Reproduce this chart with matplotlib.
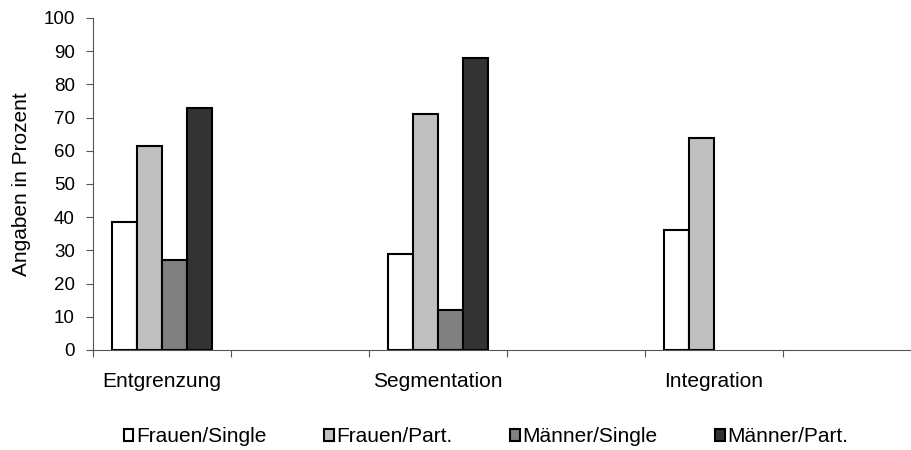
import numpy as np
import matplotlib
matplotlib.use("Agg")
import matplotlib.pyplot as plt
from matplotlib.patches import Patch

plt.rcParams['font.family'] = ['Liberation Sans', 'DejaVu Sans']

# daten
kategorien = ["Entgrenzung", "", "Segmentation", "", "Integration", ""]
serien = ["Frauen/Single", "Frauen/Part.", "Männer/Single", "Männer/Part."]
frauen_single = [38.5, np.nan, 29, np.nan, 36, np.nan]
frauen_part = [61.5, np.nan, 71, np.nan, 64, np.nan]
maenner_single = [27, np.nan, 12, np.nan, np.nan, np.nan]
maenner_part = [73, np.nan, 88, np.nan, np.nan, np.nan]
farben = ['#FFFFFF', '#C0C0C0', '#808080', '#333333']

werte = [frauen_single, frauen_part, maenner_single, maenner_part]

fig = plt.figure(figsize=(9.12, 4.5), dpi=100)
ax = fig.add_axes([93/912, 100/450, 828/912, 332/450])

x = np.arange(len(kategorien)) + 0.5
w = 0.181
for i, (v, c) in enumerate(zip(werte, farben)):
    ax.bar(x + (i - 1.5) * w, v, width=w, color=c, edgecolor='black', linewidth=1.5)

ax.set_xlim(0, 6)
ax.set_ylim(0, 100)
ax.set_yticks(range(0, 101, 10))
ax.set_xticks(range(0, 7))
ax.set_xticklabels([])
ax.set_xticks(x, minor=True)
ax.set_xticklabels(kategorien, minor=True)
ax.tick_params(axis='x', which='major', length=5, direction='out', color='#555555')
ax.tick_params(axis='x', which='minor', length=0, pad=16, labelsize=15)
ax.tick_params(axis='y', length=5, direction='out', labelsize=13.5, pad=8, color='#555555')
for s in ['top', 'right']:
    ax.spines[s].set_visible(False)
for s in ['left', 'bottom']:
    ax.spines[s].set_color('#555555')
ax.set_ylabel("Angaben in Prozent", fontsize=15, labelpad=9)

handles = [Patch(facecolor=c, edgecolor='black', linewidth=1.5) for c in farben]
fig.legend(handles, serien, loc='center left', bbox_to_anchor=(124/912, 13/450),
           ncol=4, frameon=False, fontsize=15, handlelength=0.45, handleheight=0.45,
           handletextpad=0.15, columnspacing=2.75, borderaxespad=0, borderpad=0)

fig.savefig("out.png", dpi=100)
